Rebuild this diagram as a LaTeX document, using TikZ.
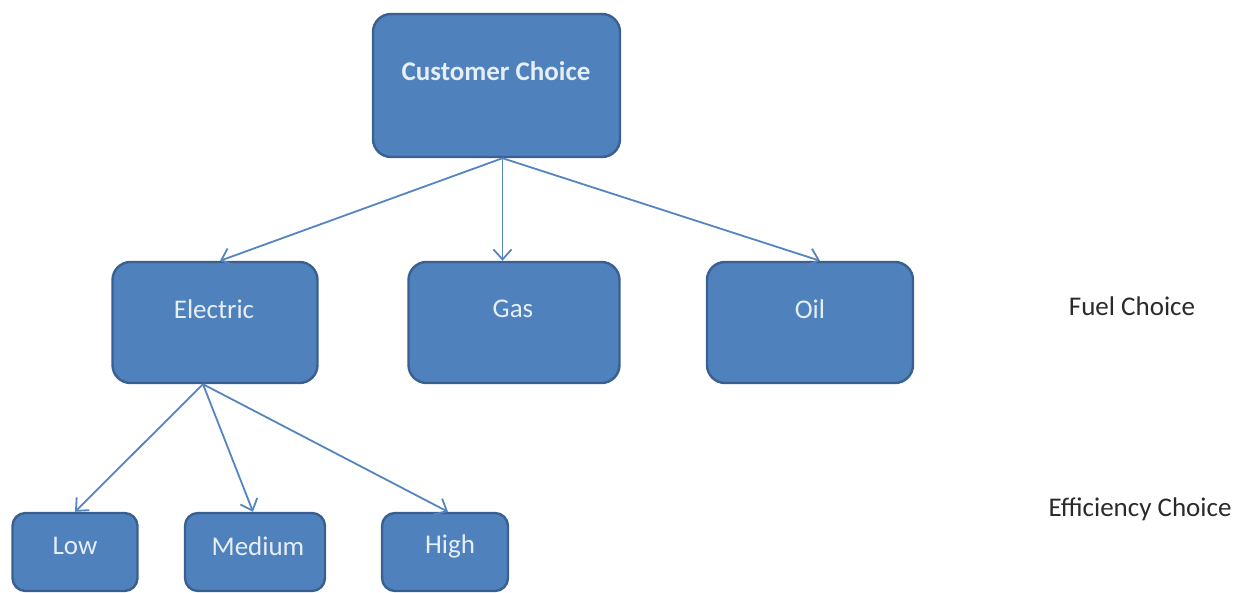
\documentclass[tikz,border=0pt]{standalone}
\usepackage{fontspec}
\setmainfont{Carlito}
\usetikzlibrary{arrows.meta}
\definecolor{boxfill}{HTML}{4F81BD}
\definecolor{boxline}{HTML}{3A6090}
\definecolor{arrowc}{HTML}{5585C0}
\definecolor{boxtext}{HTML}{E6EEF8}
\definecolor{sidetext}{HTML}{2A2A2A}
\begin{document}
\begin{tikzpicture}[x=1pt,y=-1pt,
  box/.style={draw=boxline, fill=boxfill, line width=2.4pt, rounded corners=18pt, inner sep=0pt},
  sbox/.style={box, rounded corners=13pt},
  lbl/.style={text=boxtext, font=\fontsize{27}{32}\selectfont, inner sep=0pt},
  side/.style={text=sidetext, font=\fontsize{27}{32}\selectfont, inner sep=0pt},
  arr/.style={draw=arrowc, line width=1.8pt, -{Straight Barb[length=10pt,width=18pt,line width=1.8pt]}}]
\useasboundingbox (0,0) rectangle (1243,593);
% boxes
\node[box, minimum width=247pt, minimum height=143pt] (cust) at (496.5,85.5) {};
\node[box, minimum width=205pt, minimum height=121pt] (elec) at (215,322.5) {};
\node[box, minimum width=211pt, minimum height=121pt] (gas) at (514,322.5) {};
\node[box, minimum width=206pt, minimum height=121pt] (oil) at (810,322.5) {};
\node[sbox, minimum width=125pt, minimum height=78pt] (low) at (75,552) {};
\node[sbox, minimum width=140pt, minimum height=78pt] (med) at (255,552) {};
\node[sbox, minimum width=126pt, minimum height=78pt] (high) at (445,552) {};
% texts
\node[lbl, font=\fontsize{27}{32}\selectfont\bfseries] (custt) at (496,71) {Customer Choice};
\node[lbl] (elect) at (214,309) {Electric};
\node[lbl] (gast) at (513,309) {Gas};
\node[lbl] (oilt) at (810,309) {Oil};
\node[lbl] (lowt) at (75,546) {Low};
\node[lbl] (medt) at (258,546) {Medium};
\node[lbl] (hight) at (450,546) {High};
\node[side] (fuel) at (1132,306) {Fuel Choice};
\node[side] (eff) at (1140,509) {Efficiency Choice};
% connectors
\coordinate (co) at ([xshift=6pt]cust.south);
\coordinate (eo) at ([xshift=-12pt]elec.south);
\draw[arr] (co) -- ([xshift=5pt]elec.north);
\draw[arr] (co) -- (co |- gas.north);
\draw[arr] (co) -- ([xshift=10pt]oil.north);
\draw[arr] (eo) -- (low.north);
\draw[arr] (eo) -- ([xshift=-2pt]med.north);
\draw[arr] (eo) -- ([xshift=3pt]high.north);
\end{tikzpicture}
\end{document}
